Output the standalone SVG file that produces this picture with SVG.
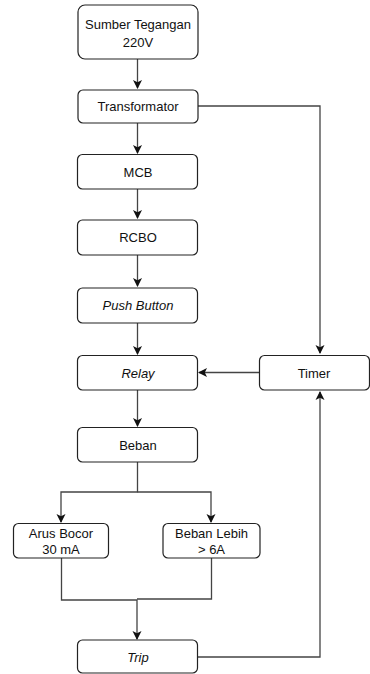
<svg xmlns="http://www.w3.org/2000/svg" width="370" height="674" viewBox="0 0 370 674">
<style>
.n rect{fill:#fff;stroke:#222;stroke-width:1.2}
.n text{font-family:"Liberation Sans",Arial,sans-serif;font-size:13px;fill:#111;text-anchor:middle;dominant-baseline:central}
.i{font-style:italic}
.c path{fill:none;stroke:#444;stroke-width:1.3}
</style>
<defs>
<marker id="a" markerWidth="10" markerHeight="10" refX="8" refY="5" orient="auto" markerUnits="userSpaceOnUse">
<path d="M0,0.5 L9,5 L0,9.5 L2.2,5 Z" fill="#111"/>
</marker>
</defs>
<rect width="370" height="674" fill="#fff"/>
<g class="c">
<path d="M137.5,59 V88" marker-end="url(#a)"/>
<path d="M137.5,123 V153" marker-end="url(#a)"/>
<path d="M137.5,189 V218" marker-end="url(#a)"/>
<path d="M137.5,255 V286" marker-end="url(#a)"/>
<path d="M137.5,323 V354" marker-end="url(#a)"/>
<path d="M137.5,390 V426" marker-end="url(#a)"/>
<path d="M198,106 H320 V353" marker-end="url(#a)"/>
<path d="M259,372.5 H199" marker-end="url(#a)"/>
<path d="M137.5,462 V492 H61 V522" marker-end="url(#a)"/>
<path d="M137.5,492 H211 V522" marker-end="url(#a)"/>
<path d="M61.5,558 V600 H137 V639" marker-end="url(#a)"/>
<path d="M211.5,558 V599 H137"/>
<path d="M197,657 H320 V392" marker-end="url(#a)"/>
</g>
<g id="sumber" class="n"><rect x="78" y="5" width="120" height="54" rx="7"/><text x="138" y="24">Sumber Tegangan</text><text x="138" y="42">220V</text></g>
<g id="transformator" class="n"><rect x="78" y="90" width="120" height="33" rx="5"/><text x="138" y="106.5">Transformator</text></g>
<g id="mcb" class="n"><rect x="77.5" y="154.5" width="120" height="34.5" rx="5"/><text x="138" y="172">MCB</text></g>
<g id="rcbo" class="n"><rect x="77.5" y="220" width="120" height="35" rx="5"/><text x="138" y="237.5">RCBO</text></g>
<g id="push" class="n"><rect x="77.5" y="288" width="120" height="35" rx="5"/><text class="i" x="138" y="305.5">Push Button</text></g>
<g id="relay" class="n"><rect x="77.5" y="355.5" width="120" height="34.5" rx="5"/><text class="i" x="138" y="373">Relay</text></g>
<g id="timer" class="n"><rect x="259.5" y="355.5" width="110" height="34.5" rx="5"/><text x="314" y="373">Timer</text></g>
<g id="beban" class="n"><rect x="77.5" y="427.5" width="120" height="34.5" rx="5"/><text x="138" y="445">Beban</text></g>
<g id="arus" class="n"><rect x="13.5" y="523.5" width="95" height="34.5" rx="5"/><text x="61" y="533">Arus Bocor</text><text x="61" y="549">30 mA</text></g>
<g id="lebih" class="n"><rect x="163" y="523.5" width="97" height="34.5" rx="5"/><text x="211.5" y="533">Beban Lebih</text><text x="211.5" y="549">&gt; 6A</text></g>
<g id="trip" class="n"><rect x="77.5" y="640" width="120" height="33" rx="5"/><text class="i" x="138" y="657">Trip</text></g>
</svg>
